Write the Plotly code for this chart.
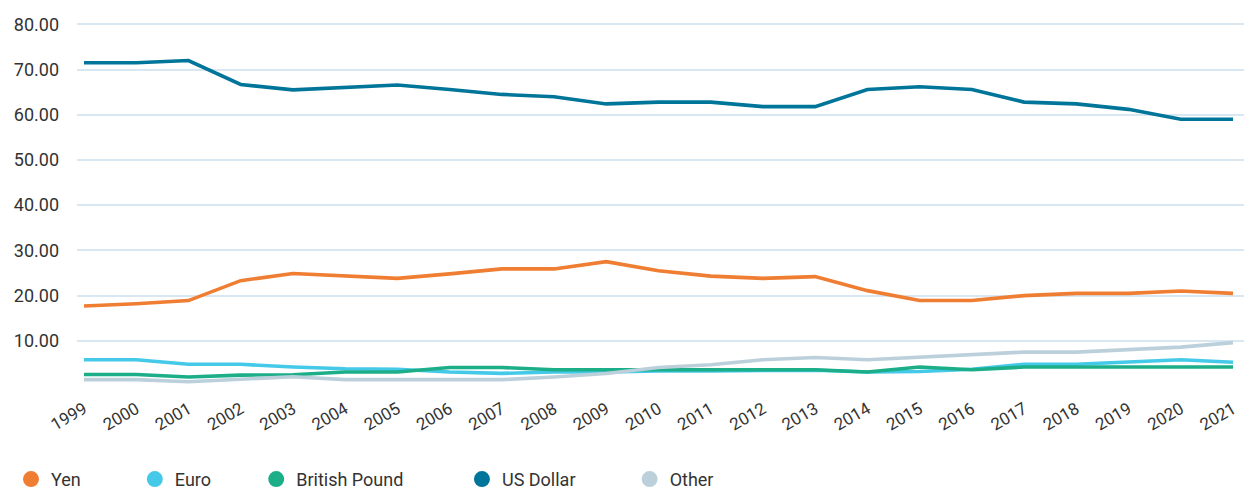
import plotly.graph_objects as go

years = list(range(1999, 2022))
yen = [17.7, 18.2, 18.9, 23.3, 24.9, 24.3, 23.8, 24.8, 25.9, 25.9, 27.5, 25.5,
       24.3, 23.8, 24.2, 21.1, 18.9, 18.9, 20.0, 20.5, 20.5, 21.0, 20.5]
euro = [5.8, 5.8, 4.8, 4.8, 4.2, 3.8, 3.7, 3.1, 2.8, 3.1, 3.1, 3.35,
        3.35, 3.5, 3.5, 3.1, 3.2, 3.7, 4.8, 4.8, 5.25, 5.8, 5.25]
pound = [2.55, 2.55, 2.0, 2.4, 2.5, 3.1, 3.1, 4.1, 4.1, 3.6, 3.6, 3.6,
         3.6, 3.6, 3.6, 3.1, 4.2, 3.6, 4.2, 4.2, 4.2, 4.2, 4.2]
usd = [71.5, 71.5, 72.0, 66.7, 65.5, 66.0, 66.6, 65.6, 64.5, 64.0, 62.4, 62.8,
       62.8, 61.8, 61.8, 65.6, 66.2, 65.6, 62.8, 62.4, 61.2, 59.0, 59.0]
other = [1.4, 1.4, 0.95, 1.5, 2.05, 1.4, 1.4, 1.4, 1.4, 2.0, 2.75, 4.1,
         4.7, 5.8, 6.3, 5.8, 6.4, 7.0, 7.5, 7.5, 8.1, 8.6, 9.6]

series_names = ["Yen", "Euro", "British Pound", "US Dollar", "Other"]
series_values = [yen, euro, pound, usd, other]
colors = ["#EF7D32", "#45C9E8", "#1BAE88", "#00759A", "#BCD0DC"]
legend_pad = [11, 9, 12, 11, 0]

y_ticks = [0, 10, 20, 30, 40, 50, 60, 70, 80]
y_ticktext = [""] + [f"{v:.2f}" for v in y_ticks[1:]]

FONT = "Roboto"
TXT = "#333333"

fig = go.Figure()
for name, vals, col in zip(series_names, series_values, colors):
    fig.add_trace(go.Scatter(x=years, y=vals, mode="lines", name=name,
                             line=dict(color=col, width=3.6),
                             showlegend=False))
for name, col, pad in zip(series_names, colors, legend_pad):
    fig.add_trace(go.Scatter(x=[None], y=[None], mode="markers",
                             name=name + "\u00a0" * pad,
                             marker=dict(color=col, size=18, symbol="circle"),
                             showlegend=True))

# page body has an 8px margin, so the figure is 8px smaller on each axis
fig.update_layout(
    width=1244, height=483,
    margin=dict(l=69, r=6, t=12, b=105),
    plot_bgcolor="white", paper_bgcolor="white",
    font=dict(family=FONT, size=18, color=TXT),
    legend=dict(orientation="h", xref="container", yref="container",
                x=0.0024, y=0.024, xanchor="left", yanchor="middle",
                font=dict(family=FONT, size=18, color=TXT),
                itemsizing="trace"),
    xaxis=dict(range=[1998.866, 2021.249], tickvals=years,
               ticktext=[str(y) for y in years], tickangle=-30,
               showgrid=False, zeroline=False, showline=False,
               ticklabelstandoff=9,
               tickfont=dict(family=FONT, size=17, color=TXT)),
    yaxis=dict(range=[0, 80.3], tickvals=y_ticks, ticktext=y_ticktext,
               showgrid=True, gridcolor="#D8E7F1", gridwidth=1.6,
               zeroline=False, showline=False, ticklabelstandoff=17,
               tickfont=dict(family=FONT, size=18, color=TXT)),
)

fig.write_html("out.html")
